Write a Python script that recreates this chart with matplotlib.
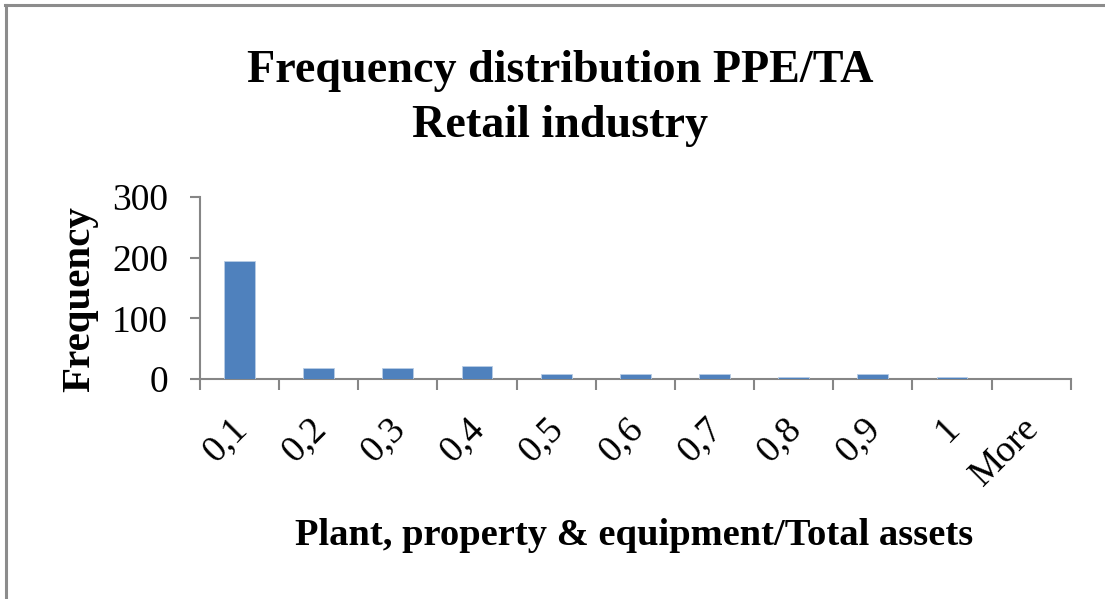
import numpy as np
import matplotlib
matplotlib.use('Agg')
import matplotlib.pyplot as plt
import matplotlib.transforms as mtransforms
from matplotlib.lines import Line2D

bins = ['0,1', '0,2', '0,3', '0,4', '0,5', '0,6', '0,7', '0,8', '0,9', '1', 'More']
freq = [195, 19, 19, 22, 9, 9, 9, 3, 9, 3, 0]
yticks = [0, 100, 200, 300]

plt.rcParams['font.family'] = 'Liberation Serif'
axis_grey = '#868686'

fig = plt.figure(figsize=(11.05, 5.99), dpi=100)
ax = fig.add_axes([0.181, 0.367, 0.788, 0.304])

x = np.arange(len(bins))
ax.bar(x, freq, width=0.39, color='#4F81BD', edgecolor='#B9CDE5', linewidth=0.6, zorder=3)

ax.set_xlim(-0.5, len(bins) - 0.5)
ax.set_ylim(0, 300)
ax.set_yticks(yticks)
ax.set_yticklabels([str(v) for v in yticks], fontsize=27)

# tick marks sit on the bin edges, labels under the bin centres
ax.set_xticks(np.arange(-0.5, len(bins)), labels=[])
ax.set_xticks(x, minor=True)
ax.set_xticklabels(bins, minor=True, fontsize=27, rotation=45,
                   ha='right', va='top', rotation_mode='anchor')
ax.tick_params(axis='x', which='minor', length=0, pad=23)
ax.tick_params(axis='x', which='major', length=8, width=1.5, color=axis_grey, direction='out')
ax.tick_params(axis='y', length=7, width=1.5, color=axis_grey, pad=16)

shift = mtransforms.ScaledTranslation(-0.10, 0, fig.dpi_scale_trans)
for lbl in ax.get_xticklabels(minor=True):
    lbl.set_transform(lbl.get_transform() + shift)

for s in ['top', 'right']:
    ax.spines[s].set_visible(False)
for s in ['left', 'bottom']:
    ax.spines[s].set_color(axis_grey)
    ax.spines[s].set_linewidth(1.5)

fig.text(0.507, 0.863, 'Frequency distribution PPE/TA', fontsize=33.2,
         fontweight='bold', ha='center', va='baseline')
fig.text(0.507, 0.771, 'Retail industry', fontsize=33.2,
         fontweight='bold', ha='center', va='baseline')
fig.text(0.072, 0.501, 'Frequency', fontsize=29.5, fontweight='bold',
         rotation=90, ha='center', va='center')
fig.text(0.574, 0.090, 'Plant, property & equipment/Total assets', fontsize=27.7,
         fontweight='bold', ha='center', va='baseline')

# chart area frame (only top and left edges are in view)
fig.add_artist(Line2D([0.0045, 1.0], [0.9915, 0.9915], transform=fig.transFigure,
                      color='#8c8c8c', linewidth=2.2))
fig.add_artist(Line2D([0.0055, 0.0055], [0.0, 0.9915], transform=fig.transFigure,
                      color='#8c8c8c', linewidth=2.2))

fig.savefig('out.png', dpi=100)
